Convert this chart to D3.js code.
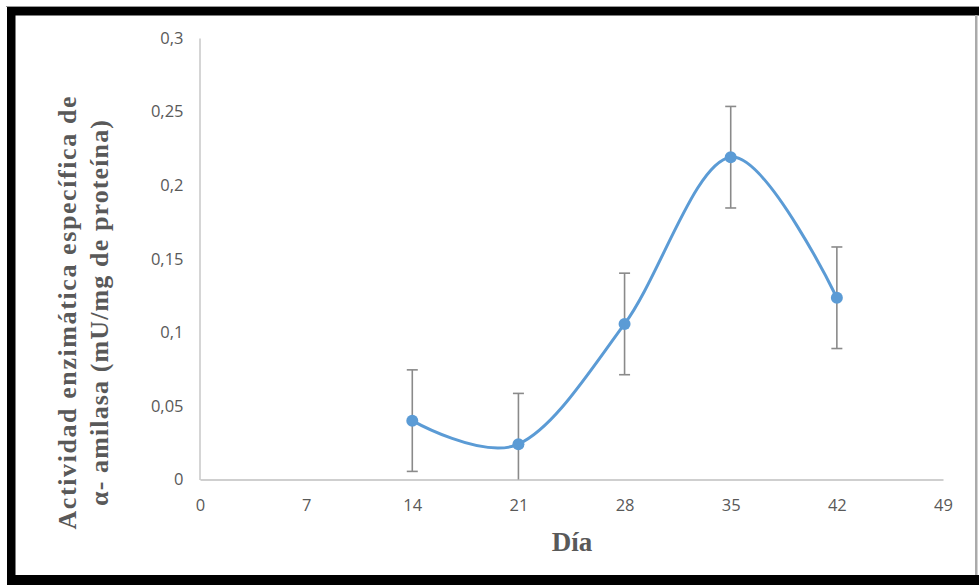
<!DOCTYPE html>
<html><head><meta charset="utf-8">
<script src="https://cdn.jsdelivr.net/npm/d3@7"></script>
<style>html,body{margin:0;padding:0;background:#fff}svg{display:block}</style>
</head><body>
<svg id="c" width="979" height="585"></svg>
<script>
const days = [14, 21, 28, 35, 42];
const activity = [0.040, 0.024, 0.1057, 0.219, 0.1235];
const errorBars = [0.0345, 0.0345, 0.0345, 0.0345, 0.0345];
const xTicks = [0, 7, 14, 21, 28, 35, 42, 49];
const yTicks = [0, 0.05, 0.1, 0.15, 0.2, 0.25, 0.3];
const yTitleLines = ["Actividad enzimática específica de", "α- amilasa (mU/mg de proteína)"];
const xTitle = "Día";

const svg = d3.select("#c");
svg.append("rect").attr("width", 979).attr("height", 585).attr("fill", "#fff");

// frame
svg.append("line").attr("x1", 6).attr("x2", 979).attr("y1", 6.5).attr("y2", 6.5).attr("stroke", "#999").attr("stroke-width", 1);
svg.append("rect").attr("x", 7).attr("y", 7).attr("width", 972).attr("height", 8.5).attr("fill", "#000");
svg.append("rect").attr("x", 7).attr("y", 7).attr("width", 8.5).attr("height", 578).attr("fill", "#000");
svg.append("rect").attr("x", 7).attr("y", 575).attr("width", 972).attr("height", 10).attr("fill", "#000");
svg.append("rect").attr("x", 975).attr("y", 15).attr("width", 2.5).attr("height", 560).attr("fill", "#aaa");

const x = d3.scaleLinear().domain([0, 49]).range([200, 943]);
const y = d3.scaleLinear().domain([0, 0.3]).range([479.5, 38]);
const fmt = v => String(+v.toFixed(2)).replace(".", ",");

// axes
const xAxis = svg.append("g").attr("transform", `translate(0,${y(0)})`)
  .call(d3.axisBottom(x).tickValues(xTicks).tickSize(0).tickPadding(20).tickFormat(d => d));
xAxis.select(".domain").attr("stroke", "#bfbfbf").attr("stroke-width", 1.3);
const yAxis = svg.append("g").attr("transform", `translate(${x(0) - 0.5},0)`)
  .call(d3.axisLeft(y).tickValues(yTicks).tickSize(0).tickPadding(16).tickFormat(fmt));
yAxis.select(".domain").attr("stroke", "#bfbfbf").attr("stroke-width", 1.3);
svg.selectAll(".tick text").attr("font-family", "'Open Sans', sans-serif").attr("font-size", 16.5).attr("fill", "#595959");

// error bars
const data = days.map((d, i) => ({d, v: activity[i], e: errorBars[i]}));
const eb = svg.append("g").attr("stroke", "#8a8a8a").attr("stroke-width", 1.6);
data.forEach(p => {
  const lo = Math.max(0, p.v - p.e), hi = p.v + p.e;
  eb.append("line").attr("x1", x(p.d)).attr("x2", x(p.d)).attr("y1", y(lo)).attr("y2", y(hi));
  eb.append("line").attr("x1", x(p.d) - 5.5).attr("x2", x(p.d) + 5.5).attr("y1", y(hi)).attr("y2", y(hi));
  if (p.v - p.e > 0) eb.append("line").attr("x1", x(p.d) - 5.5).attr("x2", x(p.d) + 5.5).attr("y1", y(lo)).attr("y2", y(lo));
});

// smoothed line
const line = d3.line().x(p => x(p.d)).y(p => y(p.v)).curve(d3.curveCardinal.tension(0));
svg.append("path").datum(data).attr("d", line).attr("fill", "none").attr("stroke", "#5B9BD5").attr("stroke-width", 3);
svg.append("g").selectAll("circle").data(data).join("circle")
  .attr("cx", p => x(p.d)).attr("cy", p => y(p.v)).attr("r", 6).attr("fill", "#5B9BD5");

// titles
svg.append("text").attr("x", 572).attr("y", 551).attr("text-anchor", "middle")
  .attr("font-family", "'Liberation Serif', 'Times New Roman', serif").attr("font-weight", "bold")
  .attr("font-size", 27).attr("fill", "#595959").text(xTitle);
const yt = svg.append("text").attr("transform", "translate(0,313) rotate(-90)").attr("text-anchor", "middle")
  .attr("font-family", "'Liberation Serif', 'Times New Roman', serif").attr("font-weight", "bold")
  .attr("font-size", 26).attr("fill", "#595959");
const titleLens = [433, 386];
yTitleLines.forEach((t, i) => yt.append("tspan").attr("x", 0).attr("y", 76 + i * 32)
  .attr("textLength", titleLens[i]).attr("lengthAdjust", "spacing").text(t));
</script>
</body></html>
